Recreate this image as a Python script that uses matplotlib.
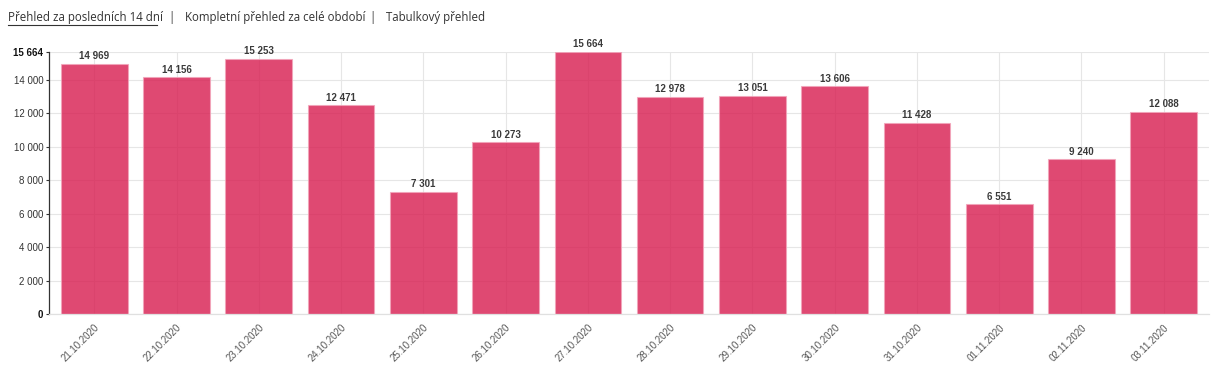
import matplotlib
matplotlib.use("Agg")
import matplotlib.pyplot as plt

dates = ["21.10.2020", "22.10.2020", "23.10.2020", "24.10.2020", "25.10.2020",
         "26.10.2020", "27.10.2020", "28.10.2020", "29.10.2020", "30.10.2020",
         "31.10.2020", "01.11.2020", "02.11.2020", "03.11.2020"]
values = [14969, 14156, 15253, 12471, 7301, 10273, 15664, 12978, 13051, 13606,
          11428, 6551, 9240, 12088]
yticks = [0, 2000, 4000, 6000, 8000, 10000, 12000, 14000, 15664]

def fmt(v):
    return f"{v:,}".replace(",", " ")

fig = plt.figure(figsize=(12.15, 3.66), dpi=100)
ax = fig.add_axes([49/1215, (366-314)/366, (1209-49)/1215, (314-52)/366])

x = list(range(len(dates)))
ax.bar(x, values, width=0.81, color="#d81b4f", alpha=0.8, edgecolor="#f2a5ba",
       linewidth=0.8, zorder=2)
for xi, v in zip(x, values):
    ax.text(xi, v + 150, fmt(v), ha="center", va="bottom", fontsize=7,
            family="Liberation Sans", color="#3a3a3a", fontweight="bold", zorder=4)

ax.set_xlim(-0.55, len(dates) - 0.45)
ax.set_ylim(0, 15664)
ax.set_yticks(yticks)
ax.set_yticklabels([fmt(t) for t in yticks], fontsize=7, family="Liberation Sans", color="#333333")
for lbl, t in zip(ax.get_yticklabels(), yticks):
    if t in (0, 15664):
        lbl.set_fontweight("bold")
        lbl.set_color("#111111")
ax.set_xticks(x)
ax.set_xticklabels(dates, rotation=45, ha="right", rotation_mode="anchor",
                   fontsize=7, family="Liberation Sans", color="#555555")
ax.tick_params(axis="y", length=2, pad=2, color="#333333")
ax.tick_params(axis="x", length=0, pad=6)

ax.set_axisbelow(True)
ax.grid(True, color="#e6e6e6", linewidth=0.8)

for s in ["top", "right"]:
    ax.spines[s].set_visible(False)
ax.spines["left"].set_color("#333333")
ax.spines["left"].set_linewidth(0.9)
ax.spines["bottom"].set_color("#e0e0e0")
ax.spines["bottom"].set_linewidth(0.9)

hdr_y = 1 - 17/366
hfs = 8.3
fig.text(8/1215, hdr_y, "Přehled za posledních 14 dní", fontsize=hfs, family="Open Sans",
         color="#333333", va="center", ha="left")
fig.add_artist(plt.Line2D([8/1215, 157/1215], [hdr_y - 7.5/366, hdr_y - 7.5/366],
                          color="#333333", linewidth=0.8))
fig.text(171/1215, hdr_y, "|", fontsize=hfs, family="Open Sans", color="#333333", va="center", ha="center")
fig.text(185/1215, hdr_y, "Kompletní přehled za celé období", fontsize=hfs, family="Open Sans",
         color="#333333", va="center", ha="left")
fig.text(372/1215, hdr_y, "|", fontsize=hfs, family="Open Sans", color="#333333", va="center", ha="center")
fig.text(386/1215, hdr_y, "Tabulkový přehled", fontsize=hfs, family="Open Sans",
         color="#333333", va="center", ha="left")

fig.savefig("out.png", dpi=100)
